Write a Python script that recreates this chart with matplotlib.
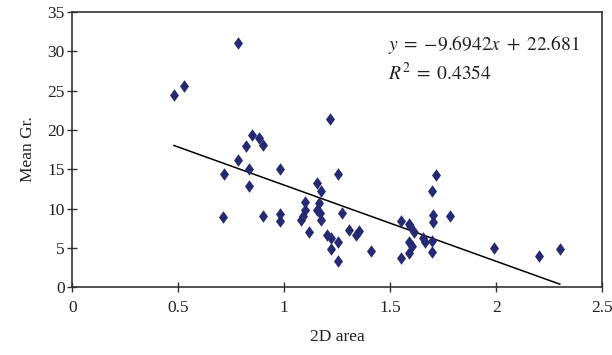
import numpy as np
import matplotlib.pyplot as plt
from matplotlib.path import Path

# measured points (2D area vs mean growth)
area = [0.48, 0.525, 0.78, 0.715, 0.71, 0.78, 0.818, 0.847, 0.881, 0.899,
        0.836, 0.836, 0.899, 0.978, 0.978, 0.978, 1.079, 1.088, 1.098, 1.098,
        1.118, 1.155, 1.156, 1.164, 1.17, 1.174, 1.174, 1.20, 1.218, 1.223,
        1.223, 1.255, 1.256, 1.256, 1.273, 1.306, 1.337, 1.353, 1.41, 1.553,
        1.553, 1.59, 1.595, 1.59, 1.605, 1.61, 1.59, 1.655, 1.662, 1.695,
        1.697, 1.697, 1.70, 1.70, 1.718, 1.781, 1.99, 2.20, 2.30]
mean_gr = [24.4, 25.6, 31.1, 14.4, 8.9, 16.2, 17.9, 19.3, 19.0, 18.1,
           15.0, 12.9, 9.1, 15.0, 9.3, 8.4, 8.6, 9.0, 9.8, 10.9,
           7.0, 13.2, 9.8, 10.7, 9.4, 12.3, 8.6, 6.6, 21.4, 6.3,
           4.9, 14.4, 5.7, 3.3, 9.4, 7.3, 6.7, 7.1, 4.6, 8.4,
           3.7, 8.1, 7.8, 4.3, 5.3, 7.0, 5.8, 6.3, 5.8, 5.9,
           4.5, 12.2, 9.2, 8.3, 14.3, 9.1, 5.0, 4.0, 4.8]

slope = -9.6942
intercept = 22.681
r2 = 0.4354

x_ticks = [0, 0.5, 1, 1.5, 2, 2.5]
x_labels = ["0", "0.5", "1", "1.5", "2", "2.5"]
y_ticks = [0, 5, 10, 15, 20, 25, 30, 35]

plt.rcParams['font.family'] = 'Liberation Serif'
plt.rcParams['mathtext.fontset'] = 'stix'

fig = plt.figure(figsize=(6.12, 3.55), dpi=100)
ax = fig.add_axes([0.118, 0.191, 0.866, 0.775])

diamond = Path([(0, 1), (0.72, 0), (0, -1), (-0.72, 0), (0, 1)],
               [Path.MOVETO, Path.LINETO, Path.LINETO, Path.LINETO, Path.CLOSEPOLY])
ax.plot(area, mean_gr, linestyle="none", marker=diamond, markersize=9,
        color="#262A73", markeredgewidth=0, zorder=3)

xs = np.array([min(area), max(area)])
ax.plot(xs, slope * xs + intercept, color="black", linewidth=1.1, zorder=2)

ax.text(1.49, 30.9, r"$y\;=\;{-}9.6942x\;+\;22.681$", fontsize=14, va="center",
        color="#222222")
ax.text(1.49, 27.3, r"$R^2\;=\;%.4f$" % r2, fontsize=14, va="center",
        color="#222222")

ax.set_xlim(0, 2.5)
ax.set_ylim(0, 35)
ax.set_xticks(x_ticks)
ax.set_xticklabels(x_labels)
ax.set_yticks(y_ticks)
ax.tick_params(direction="inout", length=7, width=1, labelsize=12.5,
               colors="#333333", labelcolor="#222222")
ax.tick_params(axis="x", pad=6)
ax.tick_params(axis="y", pad=2)

for s in ax.spines.values():
    s.set_color("#333333")
    s.set_linewidth(1.2)

ax.set_xlabel("2D area", fontsize=12.5, labelpad=9, color="#222222")
ax.set_ylabel("Mean Gr.", fontsize=12.5, labelpad=8, color="#222222")

fig.savefig("out.png", dpi=100)
